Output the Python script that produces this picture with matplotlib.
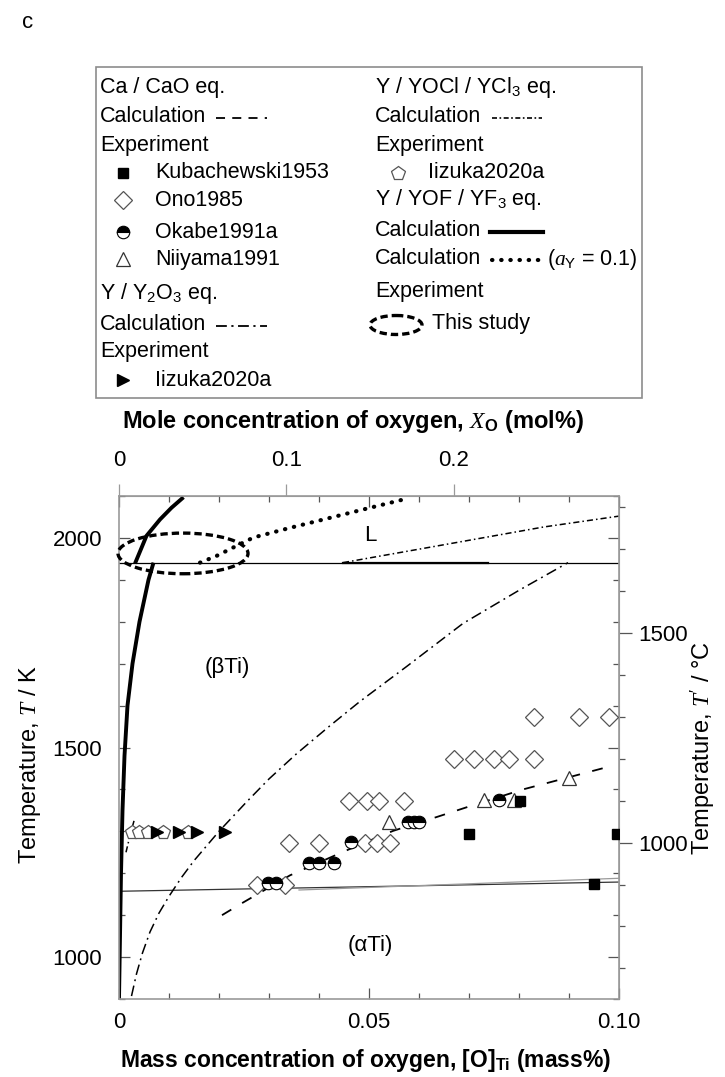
import numpy as np
import matplotlib
matplotlib.use("Agg")
import matplotlib.pyplot as plt
from matplotlib.patches import Ellipse, Rectangle
from matplotlib.ticker import FixedLocator, MultipleLocator

plt.rcParams['font.family'] = ['Liberation Sans', 'DejaVu Sans']
plt.rcParams['mathtext.fontset'] = 'custom'
plt.rcParams['mathtext.rm'] = 'Liberation Sans'
plt.rcParams['mathtext.it'] = 'Liberation Serif:italic'
plt.rcParams['mathtext.bf'] = 'Liberation Sans:bold'

# ---- calculated lines (mass% O, T / K) ----
yof_low_x = [0.0000, 0.0002, 0.0004, 0.0007, 0.0011, 0.0017, 0.0027, 0.0041, 0.0059, 0.0069]
yof_low_T = [900, 1050, 1200, 1350, 1480, 1600, 1700, 1800, 1900, 1941]
yof_liq_x = [0.0032, 0.0055, 0.0082, 0.0105, 0.0129]
yof_liq_T = [1939, 2005, 2044, 2072, 2097]

yof01_x = [0.0162, 0.0195, 0.0235, 0.0269, 0.0342, 0.0409, 0.0489, 0.0580]
yof01_T = [1941, 1957, 1981, 2001, 2024, 2044, 2068, 2095]

yocl_liq_x = [0.0448, 0.0689, 0.0849, 0.1000]
yocl_liq_T = [1941, 1992, 2026, 2052]
yocl_low_x = [0.0014, 0.0022, 0.0030]
yocl_low_T = [1250, 1290, 1325]

y2o3_x = [0.0025, 0.0035, 0.0047, 0.0062, 0.0080, 0.0100, 0.0125, 0.0150, 0.0200,
          0.0255, 0.0300, 0.0355, 0.0420, 0.0482, 0.0575, 0.0688, 0.0800, 0.0898]
y2o3_T = [907, 960, 1010, 1060, 1105, 1145, 1190, 1230, 1300,
          1370, 1425, 1485, 1550, 1610, 1693, 1796, 1875, 1941]

cao_x = [0.0206, 0.0245, 0.0342, 0.0448, 0.0548, 0.0635, 0.0702, 0.0808, 0.0982]
cao_T = [1100, 1128, 1195, 1251, 1301, 1334, 1360, 1400, 1455]

# phase boundaries
melt_x = [0.0, 0.1]
melt_T = [1941, 1941]
melt_thick_x = [0.0448, 0.0738]
transus_x = [0.0, 0.1]
transus_T = [1157, 1179]
transus2_x = [0.036, 0.1]
transus2_T = [1160, 1188]

# ---- experimental points ----
kub_x = [0.0700, 0.0802, 0.0949, 0.0995]
kub_T = [1293, 1373, 1175, 1293]

ono_x = [0.0275, 0.0332,
         0.0339, 0.0399, 0.0492, 0.0515, 0.0542,
         0.0459, 0.0495, 0.0519, 0.0569,
         0.0669, 0.0709, 0.0749, 0.0779, 0.0829,
         0.0829, 0.0920, 0.0979]
ono_T = [1173, 1173,
         1273, 1273, 1273, 1273, 1273,
         1373, 1373, 1373, 1373,
         1473, 1473, 1473, 1473, 1473,
         1573, 1573, 1573]

okabe_x = [0.0297, 0.0313, 0.0379, 0.0399, 0.0429, 0.0463, 0.0577, 0.0590, 0.0600, 0.0759]
okabe_T = [1177, 1177, 1225, 1225, 1225, 1275, 1323, 1323, 1323, 1375]

niiyama_x = [0.0539, 0.0729, 0.0789, 0.0899]
niiyama_T = [1323, 1375, 1375, 1427]

iizuka_ycl_x = [0.0025, 0.0040, 0.0058, 0.0088, 0.0138]
iizuka_ycl_T = [1298, 1298, 1298, 1298, 1298]
iizuka_y2o3_x = [0.0075, 0.0119, 0.0155, 0.0212]
iizuka_y2o3_T = [1298, 1298, 1298, 1298]

# this study region
study_center = (0.0128, 1963)
study_size = (0.026, 97)

M_O, M_TI = 15.999, 47.867


def mass_to_mol(w):
    w = np.asarray(w, dtype=float)
    n_o = w / M_O
    n_ti = (100 - w) / M_TI
    return 100 * n_o / (n_o + n_ti)


def mol_to_mass(x):
    x = np.asarray(x, dtype=float) / 100
    return 100 * x * M_O / (x * M_O + (1 - x) * M_TI)


GREY = '#9a9a9a'
FS_TICK = 16
FS_LEG = 15.5

fig = plt.figure(figsize=(7.25, 10.77), dpi=100)

# ---------------- legend box (pixel coordinates) ----------------
lax = fig.add_axes([0, 0, 1, 1])
lax.set_xlim(0, 725)
lax.set_ylim(1077, 0)
lax.axis('off')

lax.text(22, 22, 'c', fontsize=16, va='center', ha='left')
lax.add_patch(Rectangle((96, 67), 546, 331, fill=False, ec='#8c8c8c', lw=1.2))

mk_open = dict(mfc='white', mec='#555555', mew=0.9)
left_rows = [
    (88, 'Ca / CaO eq.'), (117, 'Calculation'), (145, 'Experiment'),
    (294, 'Y / Y$_\\mathregular{2}$O$_\\mathregular{3}$ eq.'), (325, 'Calculation'),
    (352, 'Experiment'),
]
for y, s in left_rows:
    lax.text(100, y, s, fontsize=FS_LEG, va='center')
lax.plot([216, 267], [118, 118], color='k', lw=1.3, ls=(0, (5, 4)))
lax.plot([216, 267], [326, 326], color='k', lw=1.3, ls=(0, (6, 2.5, 1.2, 2.5)))

marker_rows = [
    (173, 'Kubachewski1953', dict(marker='s', ms=7, mfc='k', mec='k')),
    (200, 'Ono1985', dict(marker='D', ms=9.5, **mk_open)),
    (232, 'Okabe1991a', dict(marker='o', ms=9, fillstyle='top', mfc='k', mfcalt='white', mec='k', mew=0.8)),
    (259, 'Niiyama1991', dict(marker='^', ms=10, mfc='white', mec='#333333', mew=0.9)),
    (380, 'Iizuka2020a', dict(marker='>', ms=9, mfc='k', mec='k')),
]
for y, s, st in marker_rows:
    lax.plot(123, y, ls='none', **st)
    lax.text(155, y, s, fontsize=FS_LEG, va='center')

right_rows = [
    (88, 'Y / YOCl / YCl$_\\mathregular{3}$ eq.'), (117, 'Calculation'), (145, 'Experiment'),
    (200, 'Y / YOF / YF$_\\mathregular{3}$ eq.'), (231, 'Calculation'), (259, 'Calculation'),
    (292, 'Experiment'),
]
for y, s in right_rows:
    lax.text(375, y, s, fontsize=FS_LEG, va='center')
lax.plot(398, 173, ls='none', marker='p', ms=10, **mk_open)
lax.text(428, 173, 'Iizuka2020a', fontsize=FS_LEG, va='center')
lax.plot([492, 542], [118, 118], color='k', lw=1.2, ls=(0, (3, 1.5, 1, 1.5)))
lax.plot([490, 543], [232, 232], color='k', lw=3)
lax.plot([492, 541], [260, 260], color='k', lw=3, ls=(0, (0.1, 2.1)), dash_capstyle='round')
lax.text(547, 259, '($a_\\mathregular{Y}$ = 0.1)', fontsize=FS_LEG, va='center')
lax.add_patch(Ellipse((396, 325), 52, 19, fill=False, lw=2.4, ls=(0, (2.2, 1.2))))
lax.text(432, 324, 'This study', fontsize=FS_LEG, va='center')

# ---------------- main diagram ----------------
ax = fig.add_axes([119 / 725, 1 - 999 / 1077, 500 / 725, 503 / 1077])
ax.set_xlim(0, 0.1)
ax.set_ylim(900, 2100)

ax.plot(melt_x, melt_T, color='k', lw=0.9)
ax.plot(melt_thick_x, [melt_T[0]] * 2, color='k', lw=1.6)
ax.plot(transus_x, transus_T, color='#333333', lw=0.9)
ax.plot(transus2_x, transus2_T, color=GREY, lw=0.9)

ax.plot(yof_low_x, yof_low_T, color='k', lw=2.8, solid_capstyle='butt')
ax.plot(yof_liq_x, yof_liq_T, color='k', lw=2.8, solid_capstyle='butt')
ax.plot(yof01_x, yof01_T, color='k', lw=3, ls=(0, (0.1, 2.1)), dash_capstyle='round')
ax.plot(yocl_liq_x, yocl_liq_T, color='k', lw=1.1, ls=(0, (4, 2, 1, 2)))
ax.plot(yocl_low_x, yocl_low_T, color='k', lw=1.1, ls=(0, (4, 2, 1, 2)))
ax.plot(y2o3_x, y2o3_T, color='k', lw=1.1, ls=(0, (7, 3, 1.2, 3)))
ax.plot(cao_x, cao_T, color='k', lw=1.3, ls=(0, (6, 7)))

ax.add_patch(Ellipse(study_center, study_size[0], study_size[1], fill=False,
                     lw=2.4, ls=(0, (2.2, 1.2)), clip_on=False, zorder=4))

ax.plot(ono_x, ono_T, ls='none', marker='D', ms=9.5, zorder=3, **mk_open)
ax.plot(iizuka_ycl_x, iizuka_ycl_T, ls='none', marker='p', ms=10, zorder=3, **mk_open)
ax.plot(iizuka_y2o3_x, iizuka_y2o3_T, ls='none', marker='>', ms=9, mfc='k', mec='k', zorder=3)
ax.plot(niiyama_x, niiyama_T, ls='none', marker='^', ms=10, mfc='white', mec='#333333',
        mew=0.9, zorder=3)
ax.plot(okabe_x, okabe_T, ls='none', marker='o', ms=9, fillstyle='top', mfc='k',
        mfcalt='white', mec='k', mew=0.8, zorder=3)
ax.plot(kub_x, kub_T, ls='none', marker='s', ms=7, mfc='k', mec='k', zorder=3)

ax.text(0.0502, 2005, 'L', fontsize=FS_TICK, ha='center', va='center')
ax.text(0.0216, 1692, '(βTi)', fontsize=FS_TICK, ha='center', va='center')
ax.text(0.0502, 1028, '(αTi)', fontsize=FS_TICK, ha='center', va='center')

ax.set_xticks([0, 0.05, 0.10], ['0', '0.05', '0.10'])
ax.set_yticks([1000, 1500, 2000], ['1000', '1500', '2000'])
ax.xaxis.set_minor_locator(MultipleLocator(0.01))
ax.yaxis.set_minor_locator(MultipleLocator(100))
ax.tick_params(which='both', direction='in', top=True, right=True, color='#555555',
               labelsize=FS_TICK, width=0.9)
ax.tick_params(which='major', length=8)
ax.tick_params(which='minor', length=4.5)
ax.tick_params(axis='x', pad=9)
ax.tick_params(axis='y', pad=12)
for sp in ax.spines.values():
    sp.set_color(GREY)
    sp.set_linewidth(1.2)

top = ax.secondary_xaxis('top', functions=(mass_to_mol, mol_to_mass))
top.set_xticks([0, 0.1, 0.2], ['0', '0.1', '0.2'])
top.tick_params(direction='out', length=9, width=0.9, color=GREY, labelsize=FS_TICK, pad=9)
top.xaxis.set_minor_locator(FixedLocator([]))
top.spines['top'].set_color(GREY)

right = ax.secondary_yaxis('right', functions=(lambda t: np.asarray(t) - 273.15,
                                               lambda c: np.asarray(c) + 273.15))
right.set_yticks([1000, 1500], ['1000', '1500'])
right.yaxis.set_minor_locator(MultipleLocator(100))
right.tick_params(which='both', direction='out', color='#555555', width=0.9,
                  labelsize=FS_TICK, pad=5)
right.tick_params(which='major', length=9)
right.tick_params(which='minor', length=4.5)
right.spines['right'].set_color(GREY)

fig.text(353 / 725, 1 - 422 / 1077, 'Mole concentration of oxygen, $X_\\mathregular{O}$ (mol%)',
         fontsize=17, fontweight='bold', ha='center', va='center')
fig.text(366 / 725, 1 - 1060 / 1077, 'Mass concentration of oxygen, [O]$_\\mathregular{Ti}$ (mass%)',
         fontsize=16.5, fontweight='bold', ha='center', va='center')
fig.text(30 / 725, 1 - 765 / 1077, 'Temperature, $T$ / K', fontsize=17,
         rotation=90, ha='center', va='center')
fig.text(703 / 725, 1 - 748 / 1077, "Temperature, $T'$ / °C", fontsize=17,
         rotation=90, ha='center', va='center')

fig.savefig('out.png', dpi=100)
